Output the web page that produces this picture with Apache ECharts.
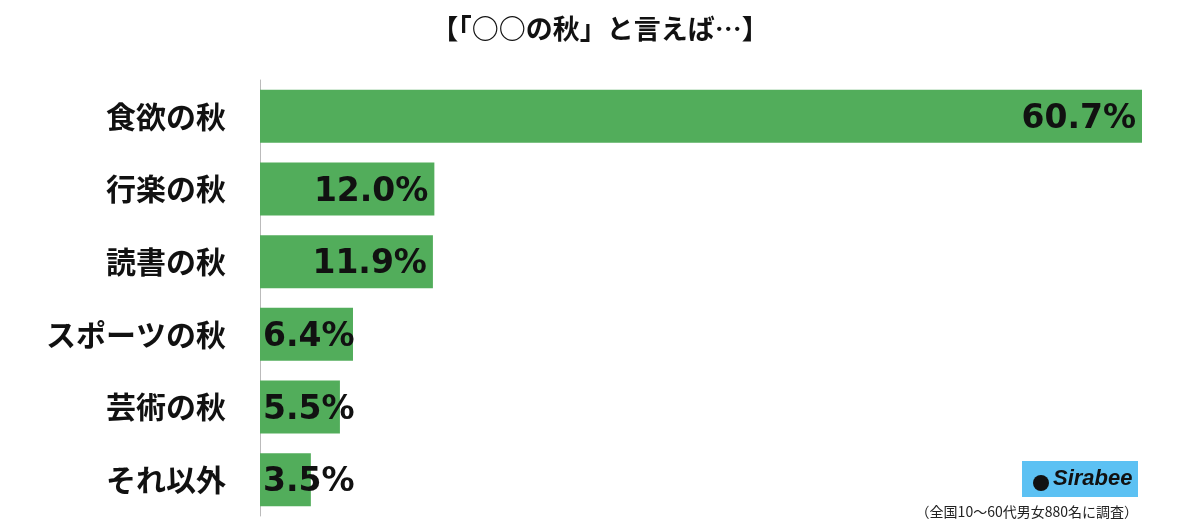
<!DOCTYPE html>
<html><head><meta charset="utf-8">
<script src="https://cdn.jsdelivr.net/npm/echarts@6/dist/echarts.min.js"></script>
<style>html,body{margin:0;padding:0;background:#fff}#c{width:1200px;height:530px}</style>
</head><body><div id="c"></div>
<script>
const categories = ['食欲の秋','行楽の秋','読書の秋','スポーツの秋','芸術の秋','それ以外'];
const values = [60.7, 12.0, 11.9, 6.4, 5.5, 3.5];
const F = '"Noto Sans CJK JP", sans-serif';
const chart = echarts.init(document.getElementById('c'));
chart.setOption({
  animation: false,
  title: {text: '【「○○の秋」と言えば…】', left: 'center', top: 10,
    textStyle: {fontFamily: F, fontWeight: 'bold', fontSize: 27, color: '#111'}},
  grid: {left: 260, right: 58, top: 80, bottom: 14},
  xAxis: {type: 'value', min: 0, max: 60.7, show: false},
  yAxis: {type: 'category', inverse: true, data: categories,
    axisLine: {lineStyle: {color: '#bbb', width: 1}}, axisTick: {show: false},
    axisLabel: {fontFamily: F, fontWeight: 'bold', fontSize: 30, color: '#111', margin: 34}},
  series: [{type: 'bar', barWidth: 53,
    data: values.map(v => ({value: v, label: {position: v < 8 ? 'insideLeft' : 'insideRight', distance: v < 8 ? 3 : 6}})),
    itemStyle: {color: '#52ad5b'},
    label: {show: true, formatter: p => p.value.toFixed(1) + '%', offset: [0, 3],
      fontFamily: '"DejaVu Sans", sans-serif', fontWeight: 'bold', fontSize: 33, color: '#111'}}],
  graphic: [
    {type: 'rect', shape: {x: 1022, y: 461, width: 116, height: 36}, style: {fill: '#5cc1f3'}},
    {type: 'circle', shape: {cx: 1041, cy: 483, r: 8}, style: {fill: '#111'}},
    {type: 'text', x: 1053, y: 479, style: {text: 'Sirabee', font: 'italic bold 22px "Liberation Sans", sans-serif', fill: '#111', verticalAlign: 'middle'}},
    {type: 'text', right: 62, top: 505, style: {text: '（全国10〜60代男女880名に調査）', font: '14px "Noto Sans CJK JP", sans-serif', fill: '#222'}}
  ]
});
</script></body></html>
